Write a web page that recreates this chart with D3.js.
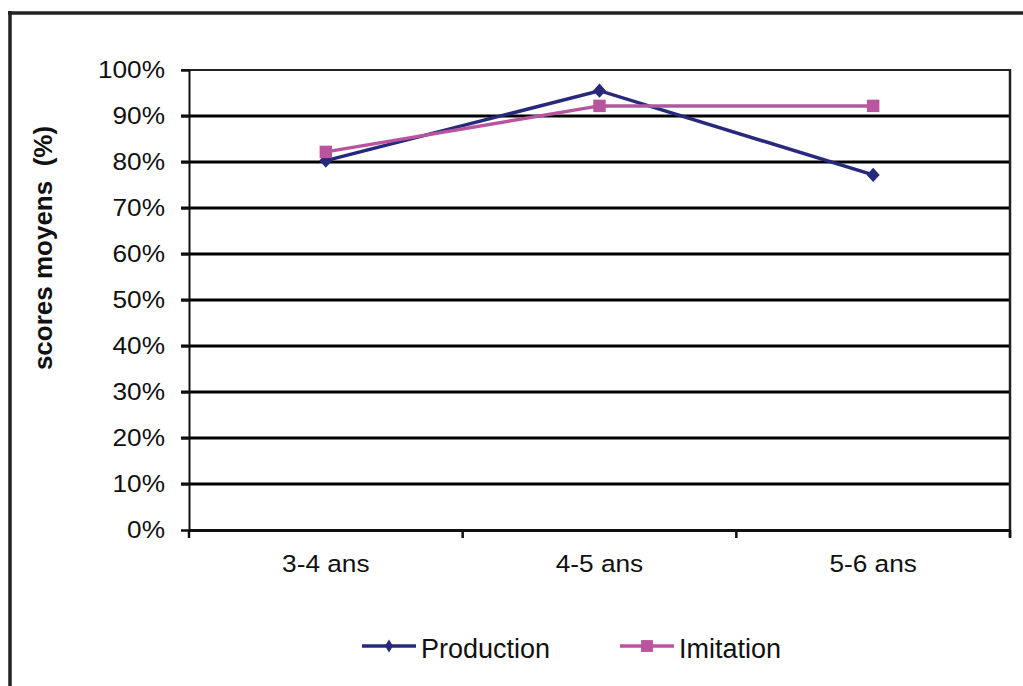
<!DOCTYPE html>
<html><head><meta charset="utf-8">
<script src="https://cdn.jsdelivr.net/npm/d3@7"></script>
<style>body{margin:0;background:#fff}svg{display:block}text{font-family:"Liberation Sans",Arial,sans-serif;fill:#111}</style>
</head><body>
<svg id="c" width="1023" height="686"></svg>
<script>
const categories = ["3-4 ans", "4-5 ans", "5-6 ans"];
const production = [80.3, 95.5, 77.2];
const imitation = [82.2, 92.2, 92.2];
const yTicks = [0,10,20,30,40,50,60,70,80,90,100];
const seriesNames = ["Production", "Imitation"];
const colors = ["#28287c", "#b8559e"];

const svg = d3.select("#c");
const m = {l:189, r:1010, t:70, b:530};
const x = d3.scaleBand().domain(categories).range([m.l, m.r]);
const y = d3.scaleLinear().domain([0,100]).range([m.b, m.t]);

function stretch(sel, k){
  sel.each(function(){
    const w = this.getComputedTextLength();
    d3.select(this).attr("textLength", w*k).attr("lengthAdjust","spacingAndGlyphs");
  });
}

// outer frame (top & left)
svg.append("line").attr("x1",8).attr("x2",1023).attr("y1",13).attr("y2",13).attr("stroke","#222").attr("stroke-width",3.5);
svg.append("line").attr("x1",10).attr("x2",10).attr("y1",11).attr("y2",686).attr("stroke","#222").attr("stroke-width",3.5);

// gridlines
svg.append("g").selectAll("line").data(yTicks.filter(d=>d>0 && d<100)).join("line")
  .attr("x1",m.l-8).attr("x2",m.r).attr("y1",d=>y(d)).attr("y2",d=>y(d))
  .attr("stroke","#000").attr("stroke-width",3);
// top border
svg.append("line").attr("x1",m.l-8).attr("x2",m.r+1).attr("y1",y(100)).attr("y2",y(100)).attr("stroke","#222").attr("stroke-width",2);
// right border
svg.append("line").attr("x1",m.r).attr("x2",m.r).attr("y1",y(100)-1).attr("y2",m.b+7).attr("stroke","#222").attr("stroke-width",2.5);

// y axis
const ya = svg.append("g").attr("transform",`translate(${m.l},0)`)
  .call(d3.axisLeft(y).tickValues(yTicks).tickFormat(d=>d+"%").tickSize(8).tickPadding(16));
ya.select(".domain").attr("stroke","#111").attr("stroke-width",2);
ya.selectAll(".tick line").attr("stroke","#111").attr("stroke-width",2);
ya.selectAll("text").attr("font-size",24.5).attr("font-family","Liberation Sans, Arial, sans-serif").attr("fill","#111");
stretch(ya.selectAll("text"), 1.07);

// x axis
const xa = svg.append("g").attr("transform",`translate(0,${m.b})`)
  .call(d3.axisBottom(x).tickSize(0).tickPadding(25));
xa.select(".domain").attr("stroke","#111").attr("stroke-width",3);
xa.selectAll("text").attr("font-size",24.5).attr("font-family","Liberation Sans, Arial, sans-serif").attr("fill","#111");
stretch(xa.selectAll("text"), 1.07);
// category boundary ticks
const bounds = categories.map(c=>x(c)).concat([m.r]);
svg.append("g").selectAll("line").data(bounds).join("line")
  .attr("x1",d=>d).attr("x2",d=>d).attr("y1",m.b).attr("y2",m.b+8)
  .attr("stroke","#111").attr("stroke-width",2.5);

// y title
svg.append("text").attr("transform",`translate(52,248) rotate(-90)`)
  .attr("text-anchor","middle").attr("font-size",26).attr("font-weight","bold")
  .attr("xml:space","preserve").text("scores moyens  (%)");

const cx = c => x(c) + x.bandwidth()/2;
const line = d3.line().x((d,i)=>cx(categories[i])).y(d=>y(d));
const mkDiamond = r => ({draw(ctx, size){ const w=Math.sqrt(size)/2, h=w*r; ctx.moveTo(0,-h); ctx.lineTo(w,0); ctx.lineTo(0,h); ctx.lineTo(-w,0); ctx.closePath(); }});
const diamond = d3.symbol().type(mkDiamond(1.1)).size(170);
const square = d3.symbol().type(d3.symbolSquare).size(155);

[production, imitation].forEach((s,si)=>{
  svg.append("path").datum(s).attr("d",line).attr("fill","none").attr("stroke",colors[si]).attr("stroke-width",3.5);
  svg.append("g").selectAll("path").data(s).join("path")
    .attr("transform",(d,i)=>`translate(${cx(categories[i])},${y(d)})`)
    .attr("d", si===0 ? diamond : square).attr("fill",colors[si]);
});

// legend
const legX = [362, 620];
const legDiamond = d3.symbol().type(mkDiamond(1.6)).size(64);
const legSquare = d3.symbol().type(d3.symbolSquare).size(140);
seriesNames.forEach((n,i)=>{
  const g = svg.append("g").attr("transform",`translate(${legX[i]},646)`);
  g.append("line").attr("x1",0).attr("x2",54).attr("stroke",colors[i]).attr("stroke-width",3.5);
  g.append("path").attr("transform","translate(27,0)").attr("d", i===0?legDiamond:legSquare).attr("fill",colors[i]);
  g.append("text").attr("x",59).attr("y",12).attr("font-size",27).text(n);
});
</script>
</body></html>
